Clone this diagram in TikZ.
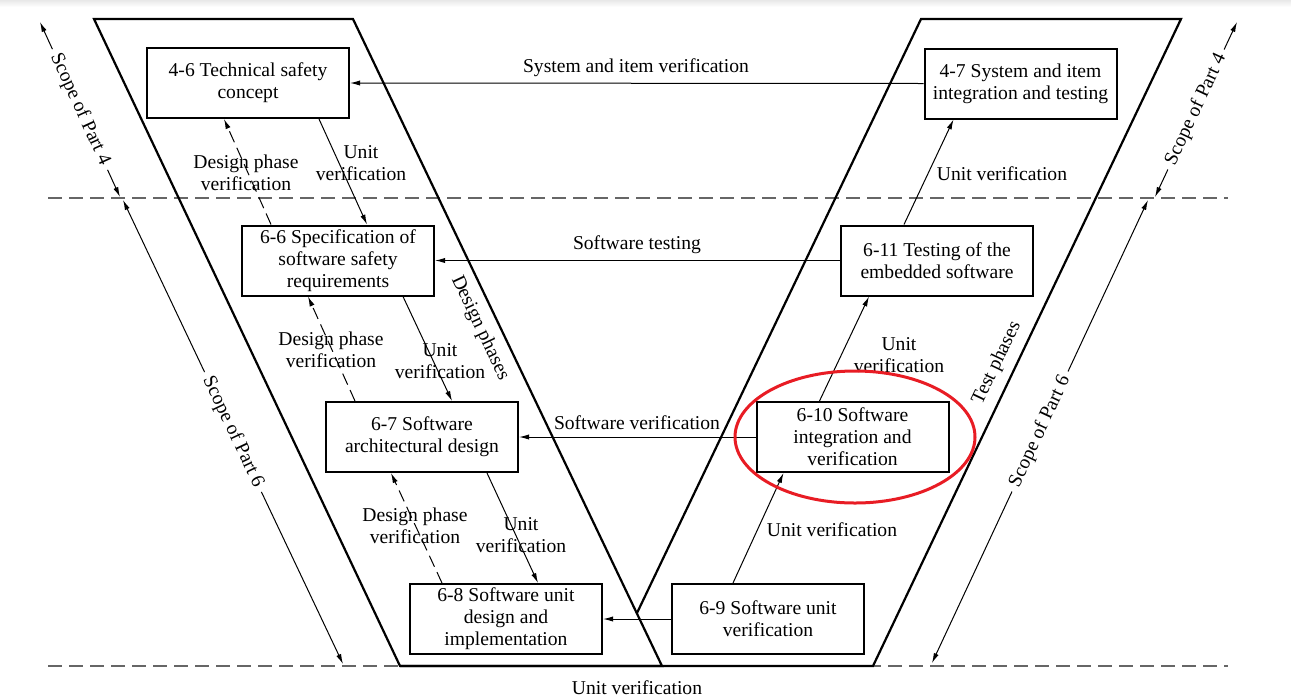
\documentclass[tikz,border=0pt]{standalone}
\usepackage{fontspec}
\setmainfont{Liberation Serif}
\usetikzlibrary{arrows.meta,calc}
\newcommand\diagfont{\fontsize{9.8}{11}\selectfont}
\definecolor{markred}{RGB}{232,28,36}
\begin{document}
\begin{tikzpicture}[x=0.5pt,y=-0.5pt,
  box/.style={draw, line width=1pt, minimum width=96pt, minimum height=35pt,
    align=center, inner sep=2pt, font=\diagfont},
  lbl/.style={align=center, font=\diagfont, inner sep=1pt},
  tip/.tip={Latex[length=5pt,width=2.6pt]},
  arr/.style={-tip, line width=0.5pt},
  dphase/.style={arr, dash pattern=on 6pt off 3pt},
  vline/.style={line width=1.1pt, line join=miter},
  sep/.style={draw=black!60, line width=0.75pt, dash pattern=on 7pt off 3.5pt},
  scopearr/.style={tip-tip, line width=0.5pt},
  scopelbl/.style={sloped, fill=white, inner sep=3pt, font=\diagfont}]

\useasboundingbox (0,0) rectangle (1291,697);
\shade[top color=black!9, bottom color=white] (0,0) rectangle (1291,7);

% phase separators
\draw[sep] (48,198) -- (1228,198);
\draw[sep] (48,666) -- (1228,666);

% the V: design side and test side
\draw[vline] (94,19) -- (353,19) -- (662,666) -- (400,666) -- cycle;
\draw[vline] (637,613) -- (921,19) -- (1181,19) -- (873,666) -- (400,666);

% work products
\node[box, minimum width=101pt] (b46) at (248,83) {4-6 Technical safety\\concept};
\node[box] (b47) at (1020.5,83.5) {4-7 System and item\\integration and testing};
\node[box] (b66) at (338,260.5) {6-6 Specification of\\software safety\\requirements};
\node[box] (b611) at (937,260.5) {6-11 Testing of the\\embedded software};
\node[box] (b67) at (422,437) {6-7 Software\\architectural design};
\node[box] (b610) at (852.5,437) {6-10 Software\\integration and\\verification};
\node[box] (b68) at (506,619) {6-8 Software unit\\design and\\implementation};
\node[box] (b69) at (768,619) {6-9 Software unit\\verification};

% horizontal verification links
\draw[arr] (b47.west) -- (b46.east);
\draw[arr] (b611.west) -- (b66.east);
\draw[arr] (b610.west) -- (b67.east);
\draw[arr] (b69.west) -- (b68.east);

\node[lbl] (tsys) at (636,68) {System and item verification};
\node[lbl] (tswt) at (637,245) {Software testing};
\node[lbl] (tswv) at (637,423) {Software verification};
\node[lbl] (tuvb) at (637,688) {Unit verification};

% design side: refinement and design phase verification
\draw[arr] ($(b46.south west)+(173,0)$) -- ($(b66.north west)+(126,0)$);
\draw[dphase] ($(b66.north west)+(30,0)$) -- ($(b46.south west)+(78,0)$);
\draw[arr] ($(b66.south west)+(162,0)$) -- ($(b67.north west)+(127,0)$);
\draw[dphase] ($(b67.north west)+(30,0)$) -- ($(b66.south west)+(67,0)$);
\draw[arr] ($(b67.south west)+(162,0)$) -- ($(b68.north west)+(129,0)$);
\draw[dphase] ($(b68.north west)+(33,0)$) -- ($(b67.south west)+(66,0)$);

\node[lbl] (tu1) at (361,163) {Unit\\verification};
\node[lbl] (td1) at (246,173) {Design phase\\verification};
\node[lbl] (tu2) at (440,361) {Unit\\verification};
\node[lbl] (td2) at (331,350) {Design phase\\verification};
\node[lbl] (tu3) at (521,535) {Unit\\verification};
\node[lbl] (td3) at (415,526) {Design phase\\verification};

% test side: integration upwards
\draw[arr] ($(b69.north west)+(62,0)$) -- ($(b610.south west)+(28,0)$);
\draw[arr] ($(b610.north west)+(64,0)$) -- ($(b611.south west)+(29,0)$);
\draw[arr] ($(b611.north west)+(64,0)$) -- ($(b47.south west)+(30,0)$);

\node[lbl] (tu4) at (832,530) {Unit verification};
\node[lbl] (tu5) at (899,355) {Unit\\verification};
\node[lbl] (tu6) at (1002,174) {Unit verification};

% phase names along the V
\node[lbl, rotate=-64.7] (tdp) at (480,328) {Design phases};
\node[lbl, rotate=64.5] (ttp) at (997,363) {Test phases};

% scope of the parts
\coordinate (l4a) at (40,22);
\coordinate (l4b) at (120,197);
\coordinate (l6a) at (123,200);
\coordinate (l6b) at (343,664);
\coordinate (r4a) at (1155,197);
\coordinate (r4b) at (1237,22);
\coordinate (r6a) at (932,663);
\coordinate (r6b) at (1148,200);
\draw[scopearr] (l4a) -- node[scopelbl] (sl4) {Scope of Part 4} (l4b);
\draw[scopearr] (l6a) -- node[scopelbl] (sl6) {Scope of Part 6} (l6b);
\draw[scopearr] (r4a) -- node[scopelbl] (sr4) {Scope of Part 4} (r4b);
\draw[scopearr] (r6a) -- node[scopelbl] (sr6) {Scope of Part 6} (r6b);

% highlight
\draw[markred, line width=1.5pt] (855,437) ellipse [x radius=60pt, y radius=33pt];
\end{tikzpicture}
\end{document}
